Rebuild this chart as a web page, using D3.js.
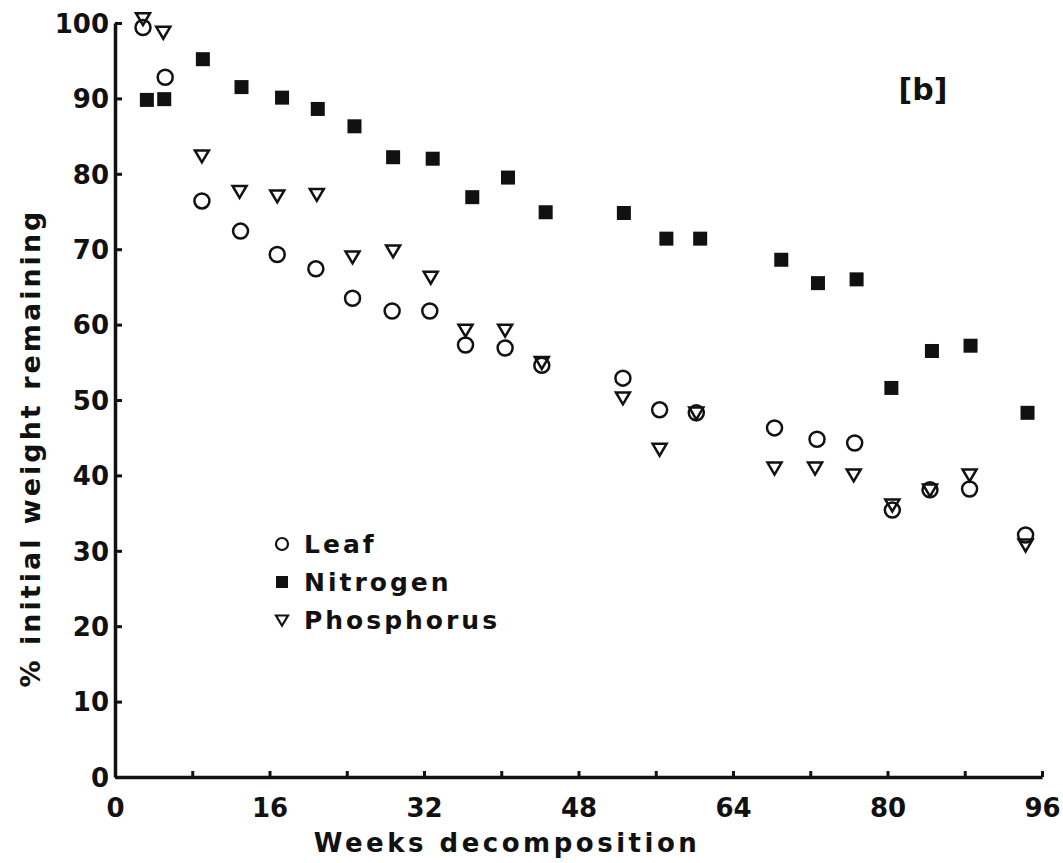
<!doctype html>
<html>
<head>
<meta charset="utf-8">
<title>Weeks decomposition</title>
<script src="https://cdnjs.cloudflare.com/ajax/libs/d3/7.8.5/d3.min.js"></script>
<style>
  body { margin: 0; background: #fff; }
  text { font-family: "DejaVu Sans", sans-serif; font-weight: bold; fill: #111; }
</style>
</head>
<body>
<div id="chartContainer"></div>
<script>
// values
var leafWeeks = [2.9, 5.2, 9, 13, 16.8, 20.8, 24.6, 28.7, 32.6, 36.3, 40.4, 44.2, 52.6, 56.4, 60.2, 68.3, 72.7, 76.6, 80.5, 84.4, 88.5, 94.3];
var leafValues = [99.4, 92.8, 76.4, 72.4, 69.3, 67.4, 63.5, 61.8, 61.8, 57.3, 56.9, 54.6, 52.9, 48.7, 48.3, 46.3, 44.8, 44.3, 35.4, 38.1, 38.2, 32.1];

var nitroWeeks = [3.3, 5.1, 9.1, 13.1, 17.3, 21, 24.8, 28.8, 32.9, 37, 40.7, 44.6, 52.7, 57.1, 60.6, 69, 72.8, 76.8, 80.4, 84.6, 88.6, 94.5];
var nitroValues = [89.8, 89.9, 95.2, 91.5, 90.1, 88.6, 86.3, 82.2, 82, 76.9, 79.5, 74.9, 74.8, 71.4, 71.4, 68.6, 65.5, 66, 51.6, 56.5, 57.2, 48.3];

var phosWeeks = [2.9, 5, 9, 12.9, 16.8, 20.9, 24.6, 28.8, 32.7, 36.3, 40.4, 44.2, 52.6, 56.4, 60.2, 68.3, 72.5, 76.5, 80.5, 84.4, 88.5, 94.3];
var phosValues = [100.6, 98.8, 82.4, 77.7, 77.1, 77.3, 69, 69.8, 66.3, 59.3, 59.3, 55, 50.3, 43.5, 48.3, 41, 41, 40.1, 36.1, 38.1, 40.1, 30.8];

var xTicks = [0, 8, 16, 24, 32, 40, 48, 56, 64, 72, 80, 88, 96];
var yTicks = [0, 10, 20, 30, 40, 50, 60, 70, 80, 90, 100];
var legendNames = ["Leaf", "Nitrogen", "Phosphorus"];

var width = 1063, height = 863;

var svg = d3.select("#chartContainer").append("svg")
    .attr("width", width)
    .attr("height", height);

var x = d3.scaleLinear().domain([0, 96]).range([115, 1042]);
var y = d3.scaleLinear().domain([0, 100]).range([777, 23]);

// axes
var xAxis = d3.axisBottom(x)
    .tickValues(xTicks)
    .tickFormat(function (d) { return d % 16 === 0 ? d : ""; })
    .tickSizeInner(-6)
    .tickSizeOuter(0)
    .tickPadding(22);

var yAxis = d3.axisLeft(y)
    .tickValues(yTicks)
    .tickSizeInner(-7)
    .tickSizeOuter(0)
    .tickPadding(6);

var gx = svg.append("g")
    .attr("transform", "translate(0," + y(0) + ")")
    .call(xAxis);

var gy = svg.append("g")
    .attr("transform", "translate(" + x(0) + ",0)")
    .call(yAxis);

[gx, gy].forEach(function (g) {
  g.select(".domain").attr("stroke", "#111").attr("stroke-width", 3.5);
  g.selectAll(".tick line").attr("stroke", "#111").attr("stroke-width", 3);
  g.selectAll(".tick text")
    .style("font-size", "26px")
    .attr("fill", "#111")
    .attr("font-family", "DejaVu Sans")
    .attr("font-weight", "bold");
});
gy.selectAll(".tick text").attr("dy", "0.36em");

// axis titles
svg.append("text")
    .attr("x", 507)
    .attr("y", 852)
    .attr("text-anchor", "middle")
    .style("font-size", "26px")
    .style("letter-spacing", "3.5px")
    .text("Weeks decomposition");

svg.append("text")
    .attr("transform", "translate(40,448) rotate(-90)")
    .attr("text-anchor", "middle")
    .style("font-size", "27px")
    .style("letter-spacing", "3px")
    .text("% initial weight remaining");

svg.append("text")
    .attr("x", 923)
    .attr("y", 100)
    .attr("text-anchor", "middle")
    .style("font-size", "30px")
    .text("[b]");

// marks
function triPath(cx, cy, s) {
  return "M" + (cx - s) + "," + (cy - s * 0.75) +
         "L" + (cx + s) + "," + (cy - s * 0.75) +
         "L" + cx + "," + (cy + s * 0.95) + "Z";
}

svg.append("g").selectAll("circle")
    .data(leafWeeks)
    .enter().append("circle")
    .attr("cx", function (d) { return x(d); })
    .attr("cy", function (d, i) { return y(leafValues[i]); })
    .attr("r", 7.5)
    .attr("fill", "none")
    .attr("stroke", "#111")
    .attr("stroke-width", 2.5);

svg.append("g").selectAll("path")
    .data(phosWeeks)
    .enter().append("path")
    .attr("d", function (d, i) { return triPath(x(d), y(phosValues[i]), 7); })
    .attr("fill", "none")
    .attr("stroke", "#111")
    .attr("stroke-width", 2.5)
    .attr("stroke-linejoin", "miter");

svg.append("g").selectAll("rect")
    .data(nitroWeeks)
    .enter().append("rect")
    .attr("x", function (d) { return x(d) - 7; })
    .attr("y", function (d, i) { return y(nitroValues[i]) - 7; })
    .attr("width", 14)
    .attr("height", 14)
    .attr("fill", "#111");

// legend
var legend = svg.append("g").attr("transform", "translate(282,544)");
legendNames.forEach(function (name, i) {
  var ly = i * 38;
  var g = legend.append("g").attr("transform", "translate(0," + ly + ")");
  if (i === 0) {
    g.append("circle").attr("r", 6).attr("fill", "none")
      .attr("stroke", "#111").attr("stroke-width", 2.2);
  } else if (i === 1) {
    g.append("rect").attr("x", -6).attr("y", -6).attr("width", 12).attr("height", 12)
      .attr("fill", "#111");
  } else {
    g.append("path").attr("d", triPath(0, 0, 6)).attr("fill", "none")
      .attr("stroke", "#111").attr("stroke-width", 2.2);
  }
  g.append("text")
    .attr("x", 22)
    .attr("y", 9)
    .style("font-size", "25px")
    .style("letter-spacing", "3px")
    .text(name);
});
</script>
</body>
</html>
